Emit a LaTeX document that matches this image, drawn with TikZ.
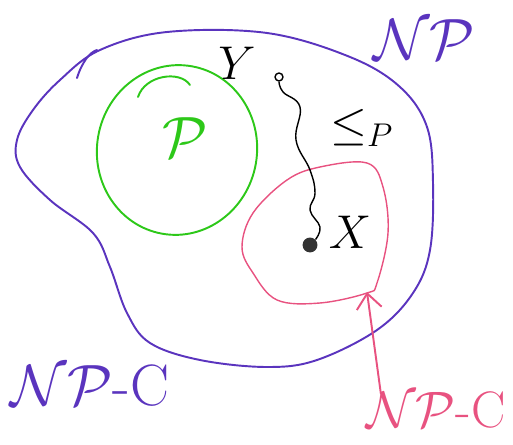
\documentclass[tikz,border=0pt]{standalone}
\usepackage{amsmath, amssymb}
\usepackage{tikz}
\usetikzlibrary{arrows.meta}

\definecolor{npblue}{RGB}{90,52,190}
\definecolor{pgreen}{RGB}{45,200,25}
\definecolor{npcpink}{RGB}{232,82,128}

\tikzset{
  pen/.style={line width=1.1pt, line cap=round, line join=round},
  biglabel/.style={font=\huge, scale=1.6, inner sep=1pt},
  midlabel/.style={font=\huge, scale=1.3, inner sep=1pt}
}

\begin{document}
\begin{tikzpicture}[x=0.02cm, y=-0.02cm]
  \useasboundingbox (0,0) rectangle (513,445);

  % NP
  \draw[npblue, pen] plot[smooth cycle, tension=0.6] coordinates {
    (167,32) (267,33) (350,57) (400,87) (427,127) (433,183) (430,250)
    (413,293) (377,330) (317,360) (267,367) (200,360) (150,343) (127,313)
    (110,267) (93,233) (50,200) (20,167) (17,140) (33,110) (60,80) (100,50)};
  \draw[npblue, pen] (77,78) .. controls (82,62) and (90,52) .. (97,50);

  % P
  \draw[pgreen, pen, rotate around={-10:(177,150)}] (177,150) ellipse (80 and 85);
  \draw[pgreen, pen] (138,97) .. controls (145,75) and (180,70) .. (190,85);
  \node[pgreen, biglabel] (p) at (185,138) {$\mathcal{P}$};

  % NP-C
  \draw[npcpink, line width=0.8pt] plot[smooth cycle, tension=0.6] coordinates {
    (287,180) (320,167) (367,163) (383,187) (388,233) (377,283) (367,293)
    (320,303) (277,300) (253,273) (242,247) (253,213)};

  % reduction
  \node[draw, circle, inner sep=1.6pt, line width=0.8pt] (yo) at (279,77) {};
  \node[fill, circle, inner sep=3pt, fill=black!80] (xo) at (310,245) {};
  \draw[line width=0.8pt] plot[smooth, tension=0.7] coordinates {
    (yo.south) (283,92) (300,107) (296,140) (310,170) (315,193) (310,210)
    (320,227) (xo.north east)};

  \node[midlabel] (y) at (237,63) {$Y$};
  \node[midlabel] (x) at (350,232) {$X$};
  \node[midlabel] (le) at (362,128) {$\leq_{P}$};

  % labels
  \node[npblue, biglabel] (np) at (424,40) {$\mathcal{NP}$};
  \node[npblue, biglabel] (npcl) at (90,386) {$\mathcal{NP}$-C};
  \node[npcpink, biglabel, scale=0.88] (npcr) at (436,410) {$\mathcal{NP}$-C};

  \coordinate (npctip) at (367,292);
  \draw[npcpink, pen, -{Straight Barb[length=3mm, width=5mm]}]
    ([xshift=0.35cm, yshift=-0.1cm]npcr.north west) -- (npctip);
\end{tikzpicture}
\end{document}
